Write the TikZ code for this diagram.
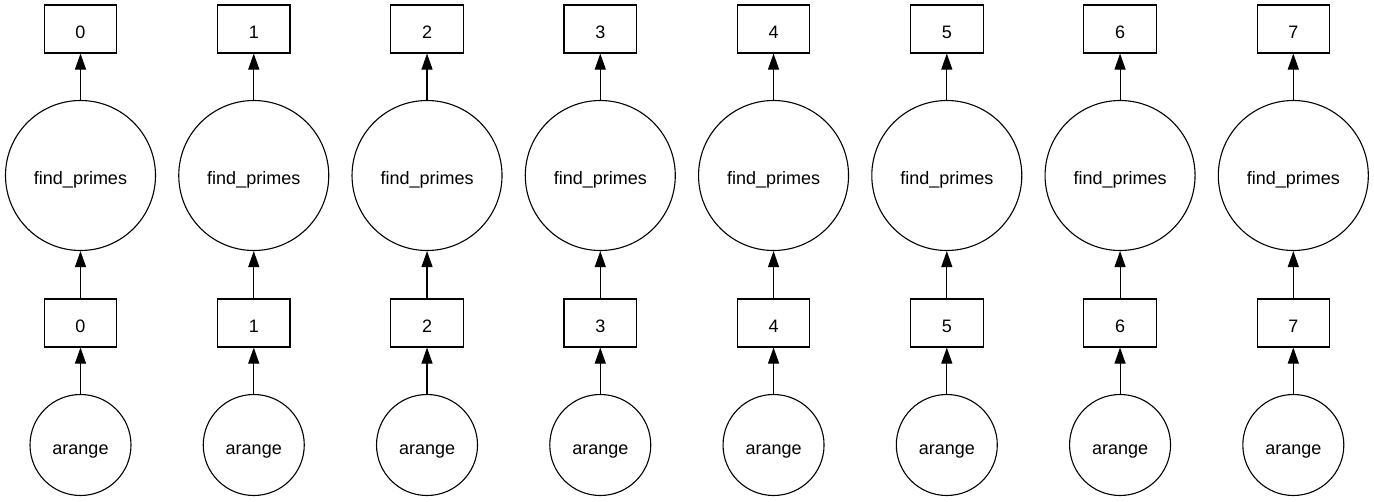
\documentclass[tikz,border=0pt]{standalone}
\usepackage{fontspec}
\setmainfont{Liberation Sans}
\usetikzlibrary{arrows.meta}
\begin{document}
\begin{tikzpicture}[x=1pt,y=1pt,
  every node/.style={font=\fontsize{18}{21}\selectfont, line width=1.1pt, inner sep=0pt, text height=18.3pt, text depth=0pt},
  keybox/.style={draw, rectangle, minimum width=72.5pt, minimum height=48pt},
  bigtask/.style={draw, circle, minimum size=150pt},
  smalltask/.style={draw, circle, minimum size=101pt},
  dep/.style={line width=1.1pt, -{Triangle[length=16pt,width=11pt]}}]
\useasboundingbox (0,0) rectangle (1374,-501);
\foreach \i in {0,...,7} {
  \pgfmathsetmacro{\cx}{80.5+173.26*\i}
  \node[keybox] (out\i) at (\cx,-29) {\i};
  \node[bigtask] (fp\i) at (\cx,-175.5) {find\_primes};
  \node[keybox] (in\i) at (\cx,-323) {\i};
  \node[smalltask] (ar\i) at (\cx,-445) {arange};
  \draw[dep] (fp\i) -- (out\i);
  \draw[dep] (in\i) -- (fp\i);
  \draw[dep] (ar\i) -- (in\i);
}
\end{tikzpicture}
\end{document}
